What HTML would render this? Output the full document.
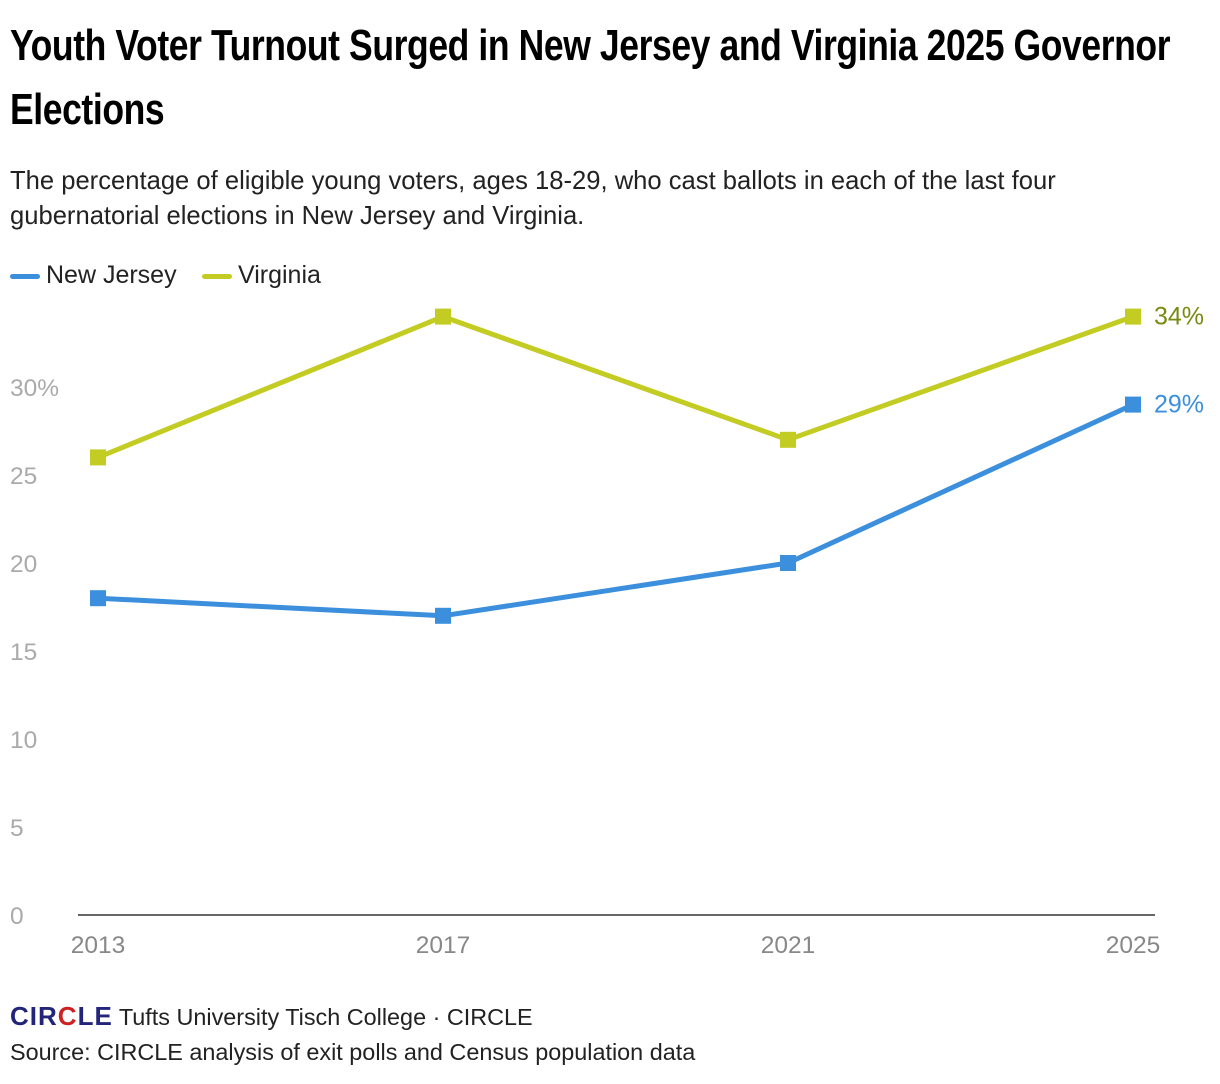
<!DOCTYPE html>
<html><head><meta charset="utf-8"><style>
body{margin:0;background:#fff;width:1220px;height:1084px;overflow:hidden;font-family:"Liberation Sans",sans-serif;}
h1{position:absolute;left:10px;top:14px;margin:0;white-space:nowrap;font-family:"Liberation Sans Narrow","Liberation Sans",sans-serif;font-weight:bold;font-size:44px;line-height:64px;color:#000;letter-spacing:-0.5px;transform:scaleX(0.807);transform-origin:left}
.sub{position:absolute;left:10px;top:164px;font-size:25.6px;line-height:35px;color:#222;width:1120px}
.leg{position:absolute;top:261px;font-size:25px;color:#222}
.leg span{display:inline-block;width:30px;height:5px;border-radius:3px;vertical-align:middle;margin-right:6px}
.foot{position:absolute;left:10px;font-size:23.4px;color:#222}
</style></head><body>
<h1>Youth Voter Turnout Surged in New Jersey and Virginia 2025 Governor<br>Elections</h1>
<div class="sub">The percentage of eligible young voters, ages 18-29, who cast ballots in each of the last four gubernatorial elections in New Jersey and Virginia.</div>
<div class="leg" style="left:10px"><span style="background:#3b8fdc"></span>New Jersey</div>
<div class="leg" style="left:202px"><span style="background:#c3cc23"></span>Virginia</div>
<svg id="chart" width="1220" height="1000" style="position:absolute;left:0;top:0"></svg>
<div class="foot" style="top:1001px"><b style="color:#23257a;font-size:26px;letter-spacing:1px">CIR<span style="color:#c22">C</span>LE</b> Tufts University Tisch College · CIRCLE</div>
<div class="foot" style="top:1039px">Source: CIRCLE analysis of exit polls and Census population data</div>
<script>
const years=["2013","2017","2021","2025"];
const nj=[18,17,20,29];
const va=[26,34,27,34];
const yTicks=[0,5,10,15,20,25,30];
const svg=document.getElementById('chart');
const NS='http://www.w3.org/2000/svg';
const x=i=>98+i*345;
const y=v=>915-v*17.6;
function mk(t,a){const e=document.createElementNS(NS,t);for(const k in a)e.setAttribute(k,a[k]);svg.appendChild(e);return e;}
yTicks.forEach(v=>{const t=mk('text',{x:10,y:y(v)+9,'font-size':24.5,fill:'#aaa','font-family':'Liberation Sans'});t.textContent=v===30?'30%':v;

});
const ax=mk('line',{x1:78,x2:1155,y1:915,y2:915,stroke:'#333','stroke-width':1.5});


years.forEach((yr,i)=>{const t=mk('text',{x:x(i),y:953,'font-size':24.5,fill:'#888','text-anchor':'middle','font-family':'Liberation Sans'});t.textContent=yr;

});
function series(d,c,name,lc){
const p=mk('polyline',{points:d.map((v,i)=>x(i)+','+y(v)).join(' '),fill:'none',stroke:c,'stroke-width':5,'stroke-linejoin':'round'});


d.forEach((v,i)=>{const r=mk('rect',{x:x(i)-8,y:y(v)-8,width:16,height:16,fill:c});

});
const l=d.length-1;const t=mk('text',{x:x(l)+21,y:y(d[l])+8,'font-size':25,fill:lc,'font-family':'Liberation Sans'});t.textContent=d[l]+'%';

}
series(va,'#c3cc23','virginia','#7a8a10');
series(nj,'#3b8fdc','new-jersey','#3b8fdc');
</script>
</body></html>
